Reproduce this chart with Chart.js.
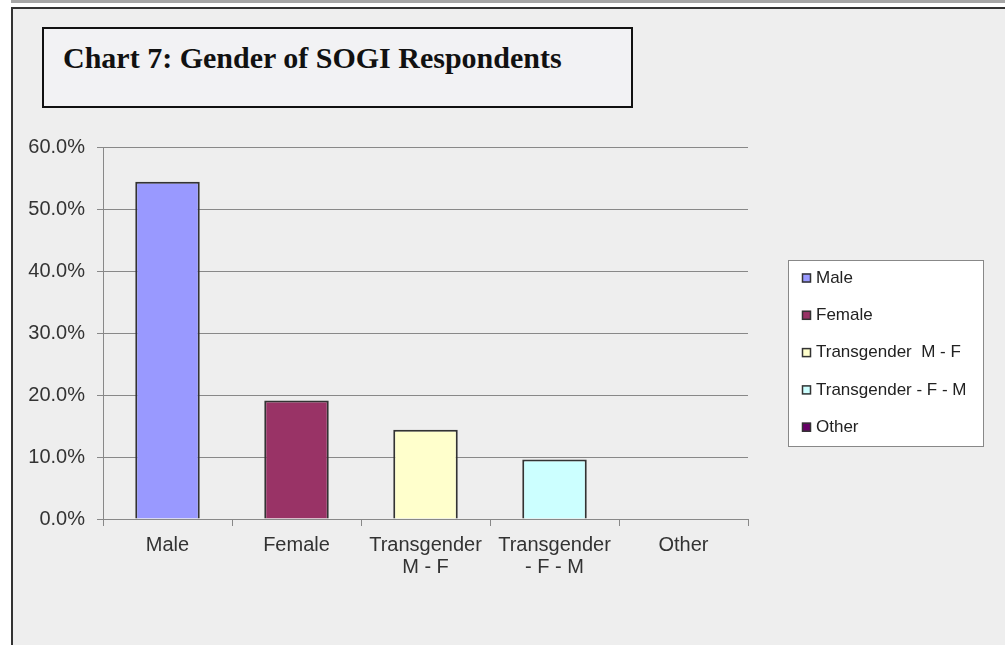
<!DOCTYPE html>
<html>
<head>
<meta charset="utf-8">
<script src="https://cdn.jsdelivr.net/npm/chart.js@4.4.1/dist/chart.umd.min.js"></script>
<style>
  html, body { margin: 0; padding: 0; background: #fff; }
  #topbar { position: absolute; left: 11px; top: 0; width: 994px; height: 3px; background: #a6a6a6; }
  #frame { position: absolute; left: 11px; top: 7px; width: 994px; height: 638px;
    border-left: 2px solid #333; border-top: 2px solid #333; background: #eeeeee; box-sizing: border-box; }
  #wrap { position: absolute; left: 0; top: 0; width: 1005px; height: 645px; }
  #titlebox { position: absolute; left: 42px; top: 27px; width: 591px; height: 81px; box-sizing: border-box;
    border: 2px solid #111; background: #f2f2f4; }
  #titlebox span { position: absolute; left: 19px; top: 12px; font: bold 30px "Liberation Serif", serif; color: #111; white-space: nowrap; }
</style>
</head>
<body>
<div id="topbar"></div>
<div id="frame"></div>
<div id="wrap"><canvas id="chart" width="1005" height="645"></canvas></div>
<div id="titlebox"><span>Chart 7: Gender of SOGI Respondents</span></div>
<script>
const categories = ['Male', 'Female', ['Transgender', 'M - F'], ['Transgender', '- F - M'], 'Other']
const legendNames = ['Male', 'Female', 'Transgender  M - F', 'Transgender - F - M', 'Other']
const shares = [54.4, 19.1, 14.4, 9.6, 0]
const barColors = ['#9999ff', '#993366', '#ffffcc', '#ccffff', '#660066']
const yTicks = [0, 10, 20, 30, 40, 50, 60]

const myChart = document.querySelector('#chart')
const axisFont = { family: '"Liberation Sans", Arial, sans-serif', size: 20, lineHeight: 1.1 }

// legend box on the right, drawn from the same arrays
const boxLegend = {
  id: 'boxLegend',
  afterDraw (chart) {
    const ctx = chart.ctx
    ctx.save()
    ctx.fillStyle = '#ffffff'
    ctx.fillRect(788, 260, 195, 186)
    ctx.strokeStyle = '#888888'
    ctx.lineWidth = 1
    ctx.strokeRect(788.5, 260.5, 195, 186)
    ctx.font = '17px "Liberation Sans", Arial, sans-serif'
    ctx.textBaseline = 'middle'
    legendNames.forEach((name, i) => {
      const y = 278 + i * 37.3
      ctx.fillStyle = barColors[i]
      ctx.fillRect(802, y - 4.5, 9, 9)
      ctx.strokeStyle = '#333333'
      ctx.lineWidth = 1.5
      ctx.strokeRect(802.5, y - 4, 8, 8)
      ctx.fillStyle = '#222222'
      ctx.fillText(name, 816, y)
    })
    ctx.restore()
  }
}

// eslint-disable-next-line no-unused-vars, no-undef
const chart = new Chart(myChart, {
  type: 'bar',
  data: {
    labels: categories,
    datasets: [{
      data: shares,
      backgroundColor: barColors,
      borderColor: '#333333',
      borderWidth: 2,
      categoryPercentage: 1,
      barPercentage: 0.5
    }]
  },
  options: {
    responsive: false,
    animation: false,
    layout: { padding: { left: 0, right: 257, top: 147, bottom: 0 } },
    plugins: {
      legend: { display: false },
      tooltip: { enabled: false }
    },
    scales: {
      x: {
        afterFit: axis => { axis.height = 126 },
        grid: { drawOnChartArea: false, color: '#888888', tickLength: 7 },
        border: { color: '#888888' },
        ticks: { color: '#333333', font: axisFont, padding: 8, maxRotation: 0, autoSkip: false }
      },
      y: {
        min: 0,
        max: 60,
        afterFit: axis => { axis.width = 103 },
        afterBuildTicks: axis => { axis.ticks = yTicks.map(v => ({ value: v })) },
        grid: { color: '#888888', tickLength: 6 },
        border: { color: '#888888' },
        ticks: {
          color: '#333333',
          font: axisFont,
          padding: 12,
          callback: v => v.toFixed(1) + '%'
        }
      }
    }
  },
  plugins: [boxLegend]
})
</script>
</body>
</html>
